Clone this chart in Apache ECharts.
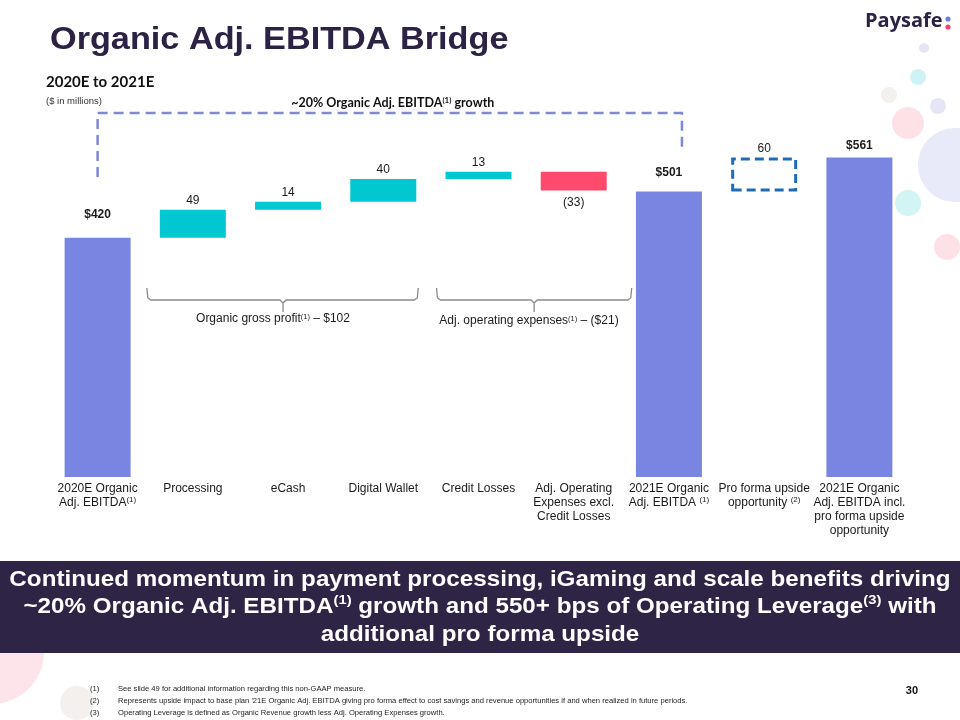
<!DOCTYPE html>
<html><head><meta charset="utf-8">
<script src="https://cdn.jsdelivr.net/npm/echarts@6/dist/echarts.min.js"></script>
<style>html,body{margin:0;padding:0;background:#fff}#c{width:960px;height:720px}</style>
</head><body><div id="c"></div>
<script>
// ---- data ----
const categories = ['2020E Organic\nAdj. EBITDA', 'Processing', 'eCash', 'Digital Wallet', 'Credit Losses',
  'Adj. Operating\nExpenses excl.\nCredit Losses', '2021E Organic\nAdj. EBITDA ', 'Pro forma upside\nopportunity ',
  '2021E Organic\nAdj. EBITDA incl.\npro forma upside\nopportunity'];
const categoryNotes = ['(1)', '', '', '', '', '', '(1)', '(2)', ''];
const startValue = 420;
const changes = [49, 14, 40, 13, -33];
const endValue = 501;
const upside = 60;
const finalValue = 561;
const bracketTop = '~20% Organic Adj. EBITDA';
const grossProfitTotal = 102;
const opexTotal = -21;
const footnotes = [
  ['(1)', 'See slide 49 for additional information regarding this non-GAAP measure.'],
  ['(2)', "Represents upside impact to base plan '21E Organic Adj. EBITDA giving pro forma effect to cost savings and revenue opportunities if and when realized in future periods."],
  ['(3)', 'Operating Leverage is defined as Organic Revenue growth less Adj. Operating Expenses growth.']
];

// ---- styles ----
const C_TOTAL = '#7886e2', C_UP = '#00c7d0', C_DOWN = '#ff4a6e', C_BOX = '#1f6cb5';
const DARK = '#2b2244', TXT = '#1a1a1a';
const FONT = '"Liberation Sans", Arial, sans-serif';

const base = [], vis = [];
let cum = startValue;
base.push(0); vis.push({ v: startValue, kind: 'total' });
changes.forEach(d => { base.push(Math.min(cum, cum + d)); vis.push({ v: Math.abs(d), kind: d >= 0 ? 'up' : 'down', raw: d }); cum += d; });
base.push(0); vis.push({ v: endValue, kind: 'total' });
base.push(endValue); vis.push({ v: upside, kind: 'upside' });
base.push(0); vis.push({ v: finalValue, kind: 'total' });

const totalDist = { 0: 17, 6: 13, 8: 6 };
const visData = vis.map((o, i) => {
  const item = { value: o.v };
  if (o.kind === 'total') {
    item.itemStyle = { color: C_TOTAL };
    item.label = { show: true, position: 'top', distance: totalDist[i], formatter: '$' + o.v, fontWeight: 'bold' };
  } else if (o.kind === 'up') {
    item.itemStyle = { color: C_UP };
    item.label = { show: true, position: 'top', distance: 3, formatter: String(o.v) };
  } else if (o.kind === 'down') {
    item.itemStyle = { color: C_DOWN };
    item.label = { show: true, position: 'bottom', distance: 6, formatter: '(' + Math.abs(o.raw) + ')' };
  } else {
    item.itemStyle = { color: 'rgba(0,0,0,0)', borderColor: C_BOX, borderWidth: 3, borderType: [9, 5] };
    item.label = { show: true, position: 'top', distance: 3, formatter: String(o.v) };
  }
  return item;
});

const chart = echarts.init(document.getElementById('c'));
chart.setOption({
  animation: false,
  backgroundColor: '#fff',
  grid: { left: 50, right: 53, top: 101, bottom: 243 },
  xAxis: {
    type: 'category', data: categories,
    axisLine: { show: false }, axisTick: { show: false },
    axisLabel: {
      interval: 0, margin: 5, color: TXT, fontFamily: FONT, fontSize: 12, lineHeight: 14,
      formatter: (val, idx) => val + (categoryNotes[idx] ? '{s|' + categoryNotes[idx] + '}' : ''),
      rich: { s: { fontSize: 8, fontFamily: FONT, color: TXT, verticalAlign: 'top', lineHeight: 14, padding: [0, 0, 6, 0] } }
    }
  },
  yAxis: { type: 'value', min: 0, max: 660, show: false, splitLine: { show: false } },
  series: [
    { type: 'bar', stack: 'w', data: base, barWidth: 66, itemStyle: { color: 'rgba(0,0,0,0)' }, silent: true },
    { type: 'bar', stack: 'w', data: visData, barWidth: 66,
      label: { color: TXT, fontFamily: FONT, fontSize: 12 } }
  ]
});

// ---- annotations ----
const px = (i, v) => chart.convertToPixel({ gridIndex: 0 }, [i, v]);
const xL = px(0, 0)[0], xR = px(6, 0)[0] + 13;
const yTop = 113;
const dash = { stroke: '#7d88d6', lineWidth: 2.5, lineDash: [10, 6] };

function brace(x1, x2, xm, y) {
  const s = { stroke: '#8a8a8a', lineWidth: 1.3, fill: null };
  return [
    { type: 'polyline', shape: { points: [[x1, y - 12], [x1 + 1, y - 2], [x1 + 4, y], [xm - 3, y], [xm, y + 3], [xm, y + 12]] }, style: s },
    { type: 'polyline', shape: { points: [[xm, y + 3], [xm + 3, y], [x2 - 4, y], [x2 - 1, y - 2], [x2, y - 12]] }, style: s }
  ];
}
const b1x1 = px(1, 0)[0] - 33 - 13, b1x2 = px(3, 0)[0] + 33 + 2;
const b2x1 = px(4, 0)[0] - 33 - 9, b2x2 = px(5, 0)[0] + 33 + 25;

const circles = [
  [924, 48, 5, '#e4e6f8'], [918, 77, 8, '#cff3f4'], [889, 95, 8, '#f4f0ee'], [938, 106, 8, '#e4e6f8'],
  [908, 123, 16, '#fde1e7'], [955, 165, 37, '#e8e9f9'], [908, 203, 13, '#d2f4f5'], [947, 247, 13, '#fde1e7'],
  [-8, 652, 52, '#fde4ea'], [110, 641, 12, '#cdf2f4'], [77, 703, 17, '#f4f0ee']
];

const graphic = [];
circles.forEach(c => graphic.push({ type: 'circle', z: 0, shape: { cx: c[0], cy: c[1], r: c[2] }, style: { fill: c[3] }, silent: true }));

graphic.push(
  { type: 'text', z: 5, x: 50, y: 40, scaleX: 1.07, style: { x: 0, y: 0, text: 'Organic Adj. EBITDA Bridge', fill: DARK, font: 'bold 32px ' + FONT, textVerticalAlign: 'middle' } },
  { type: 'text', z: 5, style: { x: 865, y: 21, text: 'Paysafe', fill: DARK, font: 'bold 20px "Open Sans", sans-serif', textVerticalAlign: 'middle' } },
  { type: 'circle', z: 5, shape: { cx: 948, cy: 19, r: 2.6 }, style: { fill: '#6f7fe0' } },
  { type: 'circle', z: 5, shape: { cx: 948, cy: 27, r: 2.6 }, style: { fill: '#f2456c' } },
  { type: 'text', z: 5, style: { x: 46, y: 82, text: '2020E to 2021E', fill: '#111', font: 'bold 15px Lato, sans-serif', textVerticalAlign: 'middle' } },
  { type: 'text', z: 5, style: { x: 46, y: 101, text: '($ in millions)', fill: '#333', font: '9.5px ' + FONT, textVerticalAlign: 'middle' } },
  // top dashed bracket
  { type: 'polyline', z: 5, shape: { points: [[xL, 177], [xL, yTop], [xR, yTop], [xR, 148]] }, style: Object.assign({ fill: null }, dash) },
  { type: 'text', z: 5, style: { x: (xL + xR) / 2 + 3, y: 103, text: bracketTop + '{s|(1)} growth', fill: '#111', font: 'bold 12.5px Lato, sans-serif', textAlign: 'center', textVerticalAlign: 'middle',
      rich: { s: { fontSize: 8, fontWeight: 'bold', fontFamily: 'Lato, sans-serif', fill: '#111', verticalAlign: 'top', padding: [0, 0, 5, 0] } } } },
  ...brace(b1x1, b1x2, px(2, 0)[0] - 5, 300),
  ...brace(b2x1, b2x2, (px(4, 0)[0] + px(5, 0)[0]) / 2 + 8, 300),
  { type: 'text', z: 5, style: { x: 273, y: 319, text: 'Organic gross profit{s|(1)} – $' + grossProfitTotal, fill: TXT, font: '12px ' + FONT, textAlign: 'center', textVerticalAlign: 'middle',
      rich: { s: { fontSize: 7.5, fontFamily: FONT, fill: TXT, verticalAlign: 'top', padding: [0, 0, 5, 0] } } } },
  { type: 'text', z: 5, style: { x: 529, y: 321, text: 'Adj. operating expenses{s|(1)} – ($' + Math.abs(opexTotal) + ')', fill: TXT, font: '12px ' + FONT, textAlign: 'center', textVerticalAlign: 'middle',
      rich: { s: { fontSize: 7.5, fontFamily: FONT, fill: TXT, verticalAlign: 'top', padding: [0, 0, 5, 0] } } } },
  // banner
  { type: 'rect', z: 6, shape: { x: 0, y: 561, width: 960, height: 92 }, style: { fill: '#2e2445' } },
  { type: 'text', z: 7, x: 480, y: 607, scaleX: 1.1, style: { x: 0, y: 0, textAlign: 'center', textVerticalAlign: 'middle', fill: '#fff', font: 'bold 22px ' + FONT, lineHeight: 27.5,
      text: 'Continued momentum in payment processing, iGaming and scale benefits driving\n~20% Organic Adj. EBITDA{s|(1)} growth and 550+ bps of Operating Leverage{s|(3)} with\nadditional pro forma upside',
      rich: { s: { fontSize: 13.5, fontWeight: 'bold', fontFamily: FONT, fill: '#fff', verticalAlign: 'top', lineHeight: 27.5, padding: [0, 0, 8, 0] } } } },
  { type: 'text', z: 7, style: { x: 918, y: 691, text: '30', fill: '#111', font: 'bold 11px ' + FONT, textAlign: 'right', textVerticalAlign: 'middle' } }
);
footnotes.forEach((f, i) => {
  graphic.push({ type: 'text', z: 7, style: { x: 90, y: 689 + i * 12, text: f[0], fill: '#222', font: '7.6px ' + FONT, textVerticalAlign: 'middle' } });
  graphic.push({ type: 'text', z: 7, style: { x: 118, y: 689 + i * 12, text: f[1], fill: '#222', font: '7.6px ' + FONT, textVerticalAlign: 'middle' } });
});
chart.setOption({ graphic: graphic });
</script>
</body></html>
